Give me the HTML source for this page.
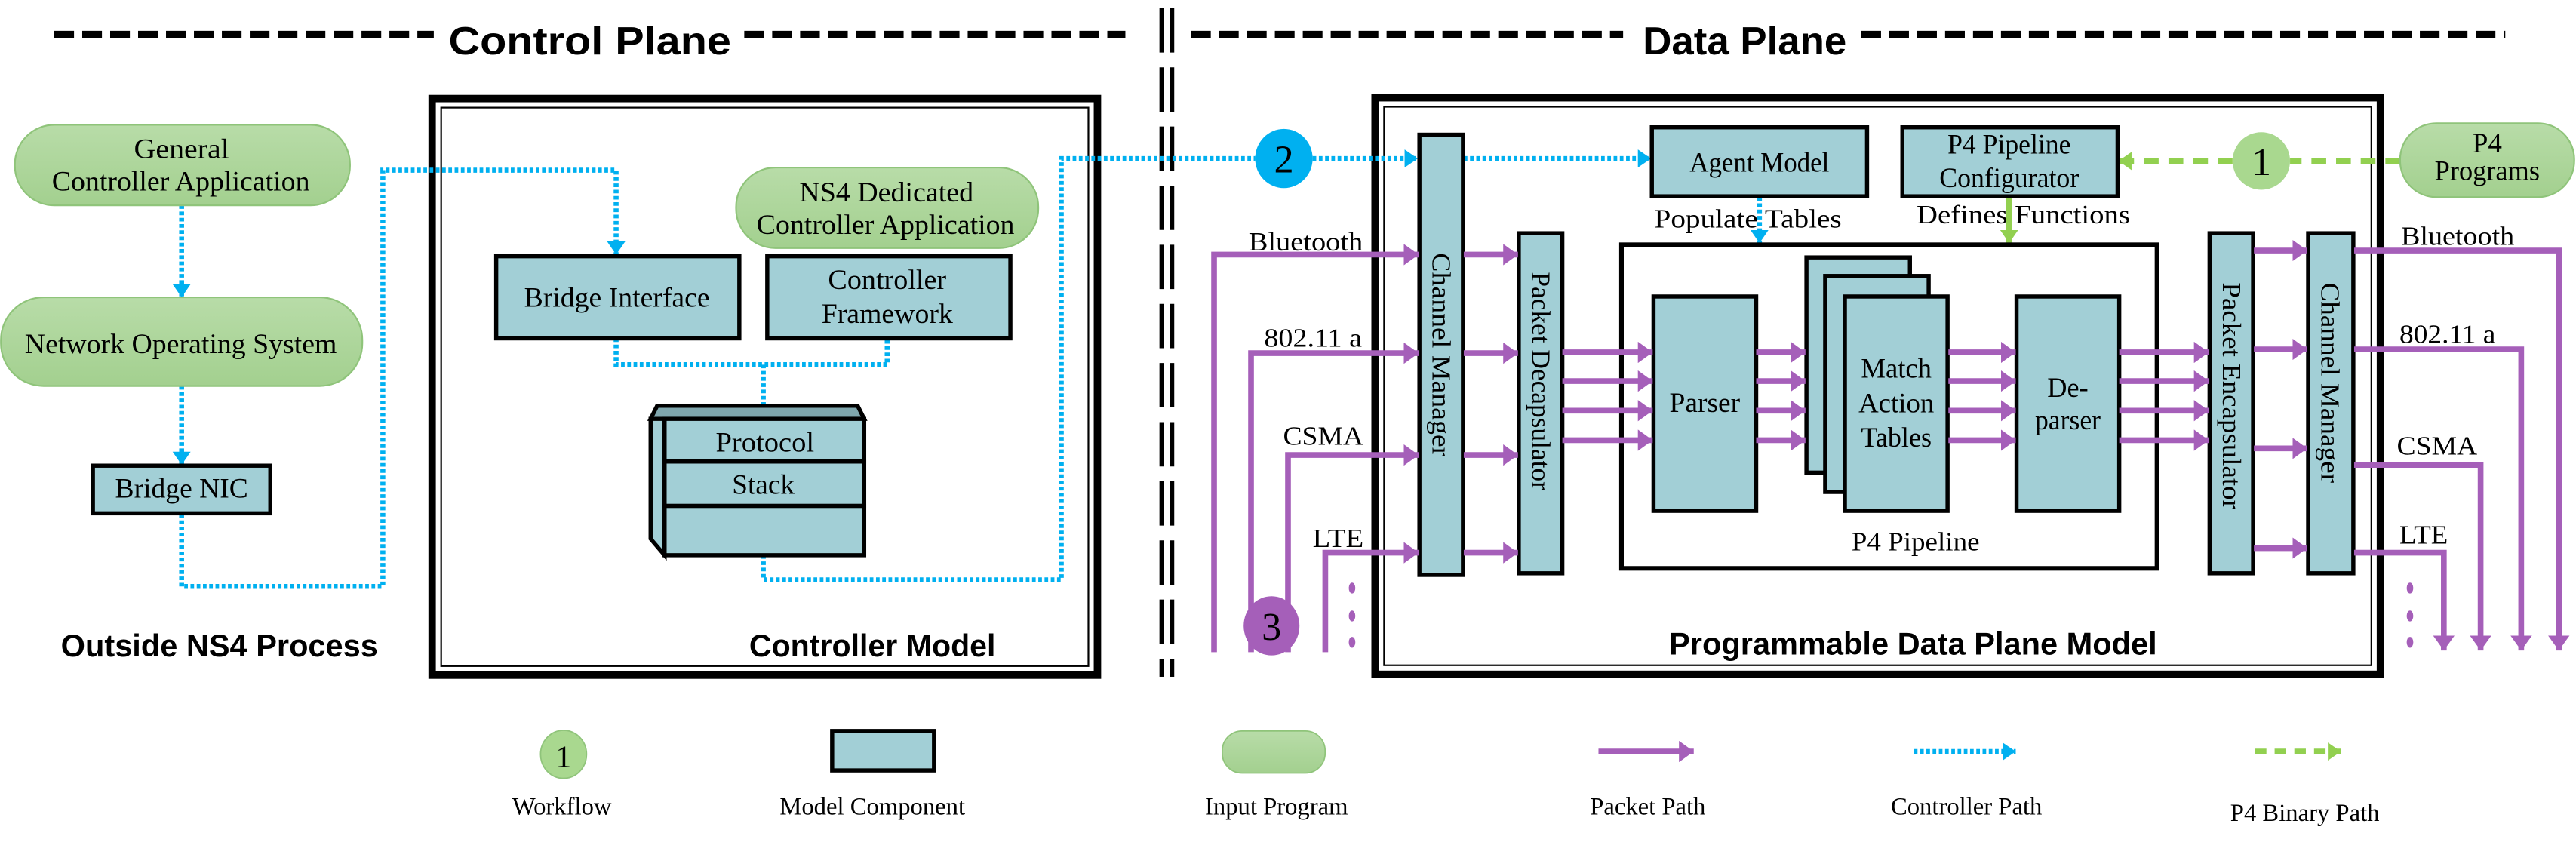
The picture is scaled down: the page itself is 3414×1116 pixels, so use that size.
<!DOCTYPE html>
<html><head><meta charset="utf-8"><style>
html,body{margin:0;padding:0;background:#fff;}
svg{display:block;}
text{font-family:"Liberation Serif","Times New Roman",serif;fill:#000;}
text.b{font-family:"Liberation Sans",Arial,sans-serif;font-weight:bold;}
</style></head><body>
<svg width="3414" height="1116" viewBox="0 0 1568 512.6" xmlns="http://www.w3.org/2000/svg" font-family="Liberation Serif, serif">
<defs>
<marker id="pa" markerUnits="userSpaceOnUse" markerWidth="9" markerHeight="13" refX="9" refY="6.5" orient="auto"><path d="M0,0 L9,6.5 L0,13 z" fill="#a55fb9"/></marker>
<marker id="ba" markerUnits="userSpaceOnUse" markerWidth="8" markerHeight="11" refX="8" refY="5.5" orient="auto"><path d="M0,0 L8,5.5 L0,11 z" fill="#00b0f0"/></marker>
<marker id="ga" markerUnits="userSpaceOnUse" markerWidth="8" markerHeight="11" refX="8" refY="5.5" orient="auto"><path d="M0,0 L8,5.5 L0,11 z" fill="#92d050"/></marker>
<linearGradient id="gg" x1="0" y1="0" x2="0" y2="1"><stop offset="0" stop-color="#b8dca8"/><stop offset="1" stop-color="#a3d08f"/></linearGradient>
</defs>
<rect width="1568" height="512.6" fill="#fff"/>

<!-- titles -->
<g stroke="#000" stroke-width="4.5" stroke-dasharray="12 5">
<line x1="33" y1="21" x2="264" y2="21"/>
<line x1="453" y1="21" x2="685" y2="21"/>
<line x1="725" y1="21" x2="988" y2="21"/>
<line x1="1133" y1="21" x2="1525" y2="21"/>
</g>
<text x="273" y="33" class="b" font-size="24" textLength="172" lengthAdjust="spacingAndGlyphs">Control Plane</text>
<text x="1000" y="33" class="b" font-size="24" textLength="124" lengthAdjust="spacingAndGlyphs">Data Plane</text>
<g stroke="#000" stroke-width="2.5" stroke-dasharray="27 9">
<line x1="707" y1="5" x2="707" y2="412"/>
<line x1="713.5" y1="5" x2="713.5" y2="412"/>
</g>

<!-- controller model box -->
<rect x="263" y="60" width="405" height="351" fill="none" stroke="#000" stroke-width="4.5"/>
<rect x="268.5" y="65.5" width="394" height="340" fill="none" stroke="#000" stroke-width="1"/>
<!-- data plane box -->
<rect x="837" y="59.5" width="612" height="351" fill="none" stroke="#000" stroke-width="4.5"/>
<rect x="842.5" y="65" width="601" height="340" fill="none" stroke="#000" stroke-width="1"/>

<!-- blue dotted controller paths -->
<g fill="none" stroke="#00b0f0" stroke-width="3" stroke-dasharray="2.2 1.6">
<line x1="110.5" y1="125" x2="110.5" y2="181" marker-end="url(#ba)"/>
<line x1="110.5" y1="235" x2="110.5" y2="283" marker-end="url(#ba)"/>
<path d="M110.5,313 V357 H233 V103.6 H375 V155" marker-end="url(#ba)"/>
<path d="M375,206 V222 H540 V206"/>
<line x1="464.6" y1="222" x2="464.6" y2="255" marker-end="url(#ba)"/>
<path d="M464.6,338 V353 H646 V96.5 H764"/>
<line x1="799" y1="96.5" x2="863" y2="96.5" marker-end="url(#ba)"/>
<line x1="891" y1="96.5" x2="1005" y2="96.5" marker-end="url(#ba)"/>
<line x1="1071" y1="120" x2="1071" y2="148" marker-end="url(#ba)"/>
</g>
<!-- green dashed -->
<g fill="none" stroke="#92d050" stroke-width="3.5">
<line x1="1461" y1="98" x2="1394" y2="98" stroke-dasharray="9 6"/>
<line x1="1359" y1="98" x2="1289.5" y2="98" stroke-dasharray="9 6" marker-end="url(#ga)"/>
<line x1="1223" y1="120" x2="1223" y2="148" marker-end="url(#ga)"/>
</g>

<!-- green pills -->
<g fill="url(#gg)" stroke="#8fc47a" stroke-width="1">
<rect x="9" y="76" width="204" height="49" rx="24" ry="24"/>
<rect x="0.5" y="181" width="220" height="54" rx="26" ry="26"/>
<rect x="448" y="102" width="184" height="49" rx="24" ry="24"/>
<rect x="1461" y="75" width="106" height="45" rx="22" ry="22"/>
</g>
<g font-family="Liberation Serif, serif">
<text x="110.5" y="96.2" font-size="17" text-anchor="middle" textLength="58" lengthAdjust="spacingAndGlyphs">General</text>
<text x="110" y="116" font-size="17" text-anchor="middle" textLength="157" lengthAdjust="spacingAndGlyphs">Controller Application</text>
<text x="110" y="215" font-size="17" text-anchor="middle" textLength="190" lengthAdjust="spacingAndGlyphs">Network Operating System</text>
<text x="539.5" y="122.6" font-size="17" text-anchor="middle" textLength="106" lengthAdjust="spacingAndGlyphs">NS4 Dedicated</text>
<text x="539" y="142.4" font-size="17" text-anchor="middle" textLength="157" lengthAdjust="spacingAndGlyphs">Controller Application</text>
<text x="1514" y="92.8" font-size="17" text-anchor="middle" textLength="18" lengthAdjust="spacingAndGlyphs">P4</text>
<text x="1514" y="109.5" font-size="17" text-anchor="middle" textLength="64" lengthAdjust="spacingAndGlyphs">Programs</text>
</g>

<!-- blue components -->
<g fill="#a2cfd6" stroke="#000" stroke-width="2.5">
<rect x="56.5" y="283.5" width="108" height="29"/>
<rect x="302" y="156" width="148" height="50"/>
<rect x="467" y="156" width="148" height="50"/>
<rect x="1005.5" y="77.5" width="131" height="42"/>
<rect x="1158" y="77.5" width="131" height="42"/>
<rect x="864" y="82" width="26.5" height="268"/>
<rect x="924.5" y="142" width="26.5" height="207"/>
<rect x="1345" y="142" width="26.5" height="207"/>
<rect x="1405" y="142" width="27.5" height="207"/>
<rect x="1006.5" y="180.5" width="62.5" height="130.5"/>
<rect x="1099.6" y="156.7" width="63" height="131"/>
<rect x="1111" y="168" width="63" height="131.5"/>
<rect x="1123" y="180.5" width="62.5" height="130.5"/>
<rect x="1227.5" y="180.5" width="62.5" height="130.5"/>
</g>
<!-- protocol stack -->
<g stroke="#000" stroke-width="2.5">
<path d="M396,255 L400,247 L522,247 L526,255 Z" fill="#7fa6ad"/>
<path d="M396,255 L404.5,255 L404.5,338 L396,328 Z" fill="#a2cfd6"/>
<rect x="404.5" y="255" width="121.5" height="26" fill="#a2cfd6"/>
<rect x="404.5" y="281" width="121.5" height="27" fill="#a2cfd6"/>
<rect x="404.5" y="308" width="121.5" height="30" fill="#a2cfd6"/>
</g>
<g font-family="Liberation Serif, serif">
<text x="465.6" y="274.8" font-size="17" text-anchor="middle" textLength="60" lengthAdjust="spacingAndGlyphs">Protocol</text>
<text x="464.6" y="300.6" font-size="17" text-anchor="middle" textLength="38" lengthAdjust="spacingAndGlyphs">Stack</text>

<text x="110.5" y="303" font-size="17" text-anchor="middle" textLength="81" lengthAdjust="spacingAndGlyphs">Bridge NIC</text>
<text x="375.5" y="186.7" font-size="17" text-anchor="middle" textLength="113" lengthAdjust="spacingAndGlyphs">Bridge Interface</text>
<text x="540" y="176" font-size="17" text-anchor="middle" textLength="72" lengthAdjust="spacingAndGlyphs">Controller</text>
<text x="540" y="196.5" font-size="17" text-anchor="middle" textLength="80" lengthAdjust="spacingAndGlyphs">Framework</text>
<text x="1071" y="104.5" font-size="17" text-anchor="middle" textLength="85" lengthAdjust="spacingAndGlyphs">Agent Model</text>
<text x="1223" y="93.5" font-size="17" text-anchor="middle" textLength="75" lengthAdjust="spacingAndGlyphs">P4 Pipeline</text>
<text x="1223" y="114" font-size="17" text-anchor="middle" textLength="85" lengthAdjust="spacingAndGlyphs">Configurator</text>
<text x="1007" y="138.5" font-size="16" textLength="114" lengthAdjust="spacingAndGlyphs">Populate Tables</text>
<text x="1166.6" y="136" font-size="16" textLength="130" lengthAdjust="spacingAndGlyphs">Defines Functions</text>
</g>

<!-- P4 pipeline box -->
<rect x="987" y="149" width="326" height="197" fill="none" stroke="#000" stroke-width="2.8"/>
<g font-family="Liberation Serif, serif">
<text x="1166" y="335" font-size="16" text-anchor="middle" textLength="78" lengthAdjust="spacingAndGlyphs">P4 Pipeline</text>
<text x="1037.7" y="250.8" font-size="17" text-anchor="middle" textLength="43" lengthAdjust="spacingAndGlyphs">Parser</text>
<text x="1154.3" y="230" font-size="17" text-anchor="middle" textLength="43" lengthAdjust="spacingAndGlyphs">Match</text>
<text x="1154.3" y="251" font-size="17" text-anchor="middle" textLength="46" lengthAdjust="spacingAndGlyphs">Action</text>
<text x="1154.3" y="272" font-size="17" text-anchor="middle" textLength="43" lengthAdjust="spacingAndGlyphs">Tables</text>
<text x="1258.7" y="241.6" font-size="17" text-anchor="middle" textLength="25" lengthAdjust="spacingAndGlyphs">De-</text>
<text x="1258.7" y="261.4" font-size="17" text-anchor="middle" textLength="40" lengthAdjust="spacingAndGlyphs">parser</text>

<!-- vertical labels -->
<text transform="translate(872,216) rotate(90)" font-size="16" text-anchor="middle" textLength="124" lengthAdjust="spacingAndGlyphs">Channel Manager</text>
<text transform="translate(932.5,232) rotate(90)" font-size="16" text-anchor="middle" textLength="133" lengthAdjust="spacingAndGlyphs">Packet Decapsulator</text>
<text transform="translate(1353,241) rotate(90)" font-size="16" text-anchor="middle" textLength="138" lengthAdjust="spacingAndGlyphs">Packet Encapsulator</text>
<text transform="translate(1413,233) rotate(90)" font-size="16" text-anchor="middle" textLength="122" lengthAdjust="spacingAndGlyphs">Channel Manager</text>
</g>

<!-- purple packet paths -->
<g fill="none" stroke="#a55fb9" stroke-width="3.5">
<path d="M739,397 V155 H863.5" marker-end="url(#pa)"/>
<path d="M761.5,397 V215 H863.5" marker-end="url(#pa)"/>
<path d="M784,397 V277 H863.5" marker-end="url(#pa)"/>
<path d="M806.7,397 V336.5 H863.5" marker-end="url(#pa)"/>
<line x1="891" y1="155" x2="924" y2="155" marker-end="url(#pa)"/>
<line x1="891" y1="215" x2="924" y2="215" marker-end="url(#pa)"/>
<line x1="891" y1="277" x2="924" y2="277" marker-end="url(#pa)"/>
<line x1="891" y1="336.5" x2="924" y2="336.5" marker-end="url(#pa)"/>
<line x1="951" y1="214.5" x2="1006" y2="214.5" marker-end="url(#pa)"/>
<line x1="951" y1="232" x2="1006" y2="232" marker-end="url(#pa)"/>
<line x1="951" y1="250" x2="1006" y2="250" marker-end="url(#pa)"/>
<line x1="951" y1="268" x2="1006" y2="268" marker-end="url(#pa)"/>
<line x1="1069" y1="214.5" x2="1099" y2="214.5" marker-end="url(#pa)"/>
<line x1="1069" y1="232" x2="1099" y2="232" marker-end="url(#pa)"/>
<line x1="1069" y1="250" x2="1099" y2="250" marker-end="url(#pa)"/>
<line x1="1069" y1="268" x2="1099" y2="268" marker-end="url(#pa)"/>
<line x1="1186" y1="214.5" x2="1227" y2="214.5" marker-end="url(#pa)"/>
<line x1="1186" y1="232" x2="1227" y2="232" marker-end="url(#pa)"/>
<line x1="1186" y1="250" x2="1227" y2="250" marker-end="url(#pa)"/>
<line x1="1186" y1="268" x2="1227" y2="268" marker-end="url(#pa)"/>
<line x1="1290" y1="214.5" x2="1344.5" y2="214.5" marker-end="url(#pa)"/>
<line x1="1290" y1="232" x2="1344.5" y2="232" marker-end="url(#pa)"/>
<line x1="1290" y1="250" x2="1344.5" y2="250" marker-end="url(#pa)"/>
<line x1="1290" y1="268" x2="1344.5" y2="268" marker-end="url(#pa)"/>
<line x1="1372" y1="152.5" x2="1404.5" y2="152.5" marker-end="url(#pa)"/>
<line x1="1372" y1="212.7" x2="1404.5" y2="212.7" marker-end="url(#pa)"/>
<line x1="1372" y1="273" x2="1404.5" y2="273" marker-end="url(#pa)"/>
<line x1="1372" y1="333.7" x2="1404.5" y2="333.7" marker-end="url(#pa)"/>
<path d="M1433,152.5 H1557.6 V396" marker-end="url(#pa)"/>
<path d="M1433,212.7 H1534.7 V396" marker-end="url(#pa)"/>
<path d="M1433,283 H1510 V396" marker-end="url(#pa)"/>
<path d="M1433,336.5 H1487.6 V396" marker-end="url(#pa)"/>
</g>
<g fill="#a55fb9">
<ellipse cx="823" cy="358" rx="2" ry="3.3"/><ellipse cx="823" cy="375" rx="2" ry="3.3"/><ellipse cx="823" cy="391" rx="2" ry="3.3"/>
<ellipse cx="1467" cy="358" rx="2" ry="3.3"/><ellipse cx="1467" cy="375" rx="2" ry="3.3"/><ellipse cx="1467" cy="391" rx="2" ry="3.3"/>
</g>
<g font-family="Liberation Serif, serif">
<text x="760" y="152.5" font-size="16" textLength="69.6" lengthAdjust="spacingAndGlyphs">Bluetooth</text>
<text x="769.5" y="211" font-size="16" textLength="59.5" lengthAdjust="spacingAndGlyphs">802.11 a</text>
<text x="781" y="270.8" font-size="16" textLength="49" lengthAdjust="spacingAndGlyphs">CSMA</text>
<text x="799" y="333" font-size="16" textLength="31" lengthAdjust="spacingAndGlyphs">LTE</text>
<text x="1461.5" y="149" font-size="16" textLength="69" lengthAdjust="spacingAndGlyphs">Bluetooth</text>
<text x="1460.6" y="208.8" font-size="16" textLength="58.5" lengthAdjust="spacingAndGlyphs">802.11 a</text>
<text x="1459" y="276.7" font-size="16" textLength="49" lengthAdjust="spacingAndGlyphs">CSMA</text>
<text x="1460.6" y="331" font-size="16" textLength="29.5" lengthAdjust="spacingAndGlyphs">LTE</text>
</g>

<!-- workflow circles -->
<ellipse cx="781.5" cy="96.5" rx="17.5" ry="18" fill="#00b0f0"/>
<text x="781.5" y="105" font-size="24" text-anchor="middle">2</text>
<ellipse cx="1376.5" cy="98" rx="17.5" ry="17.5" fill="#a9d88f"/>
<text x="1376.5" y="106.5" font-size="24" text-anchor="middle">1</text>
<ellipse cx="774" cy="381" rx="17" ry="18" fill="#a55fb9"/>
<text x="774" y="389.5" font-size="24" text-anchor="middle">3</text>

<!-- bottom labels -->
<text x="37" y="399.5" class="b" font-size="19" textLength="193" lengthAdjust="spacingAndGlyphs">Outside NS4 Process</text>
<text x="456" y="399.5" class="b" font-size="19" textLength="150" lengthAdjust="spacingAndGlyphs">Controller Model</text>
<text x="1016" y="398.5" class="b" font-size="19" textLength="297" lengthAdjust="spacingAndGlyphs">Programmable Data Plane Model</text>

<!-- legend -->
<ellipse cx="343" cy="459.2" rx="14" ry="14.6" fill="#a9d88f" stroke="#8fc47a" stroke-width="0.8"/>
<text x="343" y="467" font-size="19" text-anchor="middle">1</text>
<rect x="506.5" y="445" width="62" height="24" fill="#a2cfd6" stroke="#000" stroke-width="2.5"/>
<rect x="744" y="445" width="62.6" height="25.6" rx="12" ry="12" fill="url(#gg)" stroke="#8fc47a" stroke-width="0.8"/>
<line x1="973" y1="457.5" x2="1031" y2="457.5" stroke="#a55fb9" stroke-width="3.5" marker-end="url(#pa)"/>
<line x1="1165" y1="457.5" x2="1227" y2="457.5" stroke="#00b0f0" stroke-width="3" stroke-dasharray="2.2 1.6" marker-end="url(#ba)"/>
<line x1="1372.6" y1="457.5" x2="1425" y2="457.5" stroke="#92d050" stroke-width="3.5" stroke-dasharray="7 5" marker-end="url(#ga)"/>
<text x="342" y="495.9" font-size="15" text-anchor="middle">Workflow</text>
<text x="531" y="495.9" font-size="15" text-anchor="middle">Model Component</text>
<text x="777" y="495.9" font-size="15" text-anchor="middle">Input Program</text>
<text x="1003" y="495.9" font-size="15" text-anchor="middle">Packet Path</text>
<text x="1197" y="495.9" font-size="15" text-anchor="middle">Controller Path</text>
<text x="1403" y="499.8" font-size="15" text-anchor="middle">P4 Binary Path</text>
</svg>
</body></html>
